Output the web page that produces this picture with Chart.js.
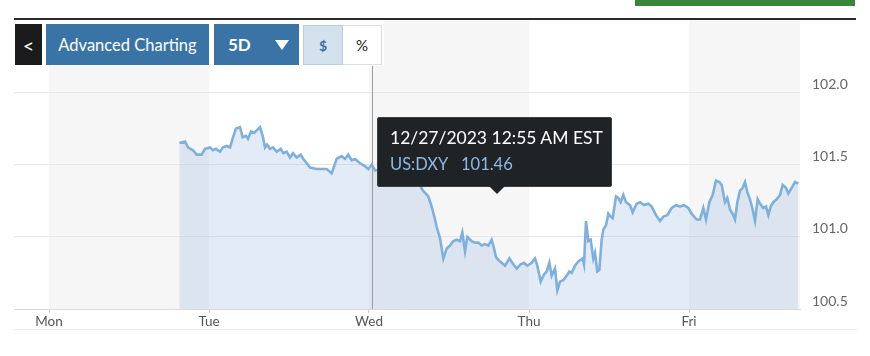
<!DOCTYPE html>
<html>
<head>
<meta charset="utf-8">
<script src="https://cdn.jsdelivr.net/npm/chart.js@4.4.1/dist/chart.umd.min.js"></script>
<style>
  html, body { margin: 0; padding: 0; background: #fff; }
  #wrap { position: relative; width: 870px; height: 356px; overflow: hidden; font-family: Lato, "Open Sans", sans-serif; }
  #c { position: absolute; left: 0; top: 0; }
  .abs { position: absolute; box-sizing: border-box; }
  .btn { display: flex; align-items: center; justify-content: center; }
</style>
</head>
<body>
<div id="wrap">
  <canvas id="c" width="870" height="356"></canvas>
  <div class="abs" style="left:635px;top:0;width:220px;height:6px;background:#37863a;"></div>
  <div class="abs" style="left:14px;top:18px;width:842px;height:2px;background:#2b2b2b;"></div>
  <div class="abs" style="left:14px;top:20px;width:370px;height:46px;background:#fff;"></div>
  <div class="abs btn" style="left:15px;top:24px;width:27px;height:41px;background:#1b1b1b;color:#fff;font-size:20px;">&lt;</div>
  <div class="abs btn" style="left:46px;top:24px;width:163px;height:41px;background:#3a74a6;color:#fff;font-size:16.5px;">Advanced Charting</div>
  <div class="abs btn" style="left:214px;top:24px;width:85px;height:41px;background:#3a74a6;color:#fff;font-size:17px;font-weight:bold;justify-content:flex-start;padding-left:14px;">5D<span style="display:inline-block;margin-left:24px;width:0;height:0;border-left:7px solid transparent;border-right:7px solid transparent;border-top:10px solid #fff;"></span></div>
  <div class="abs btn" style="left:303px;top:25px;width:40px;height:40px;background:#d4e2ee;border:1px solid #b9cde0;color:#3a74a6;font-size:14px;font-weight:bold;">$</div>
  <div class="abs btn" style="left:343px;top:25px;width:39px;height:40px;background:#fff;border:1px solid #dedede;border-left:none;color:#222;font-size:15px;">%</div>
  <div class="abs" style="left:14px;top:329px;width:843px;height:1px;background:#ececec;"></div>
  <div class="abs" style="left:377px;top:117px;width:235px;height:70px;background:#202326;border:1px solid #3c3f42;border-radius:2px;"></div>
  <div class="abs" style="left:489px;top:186px;width:0;height:0;border-left:8px solid transparent;border-right:8px solid transparent;border-top:8px solid #202326;"></div>
  <div class="abs" style="left:390px;top:127px;color:#fff;font-size:17.5px;white-space:nowrap;line-height:22px;">12/27/2023 12:55 AM EST</div>
  <div class="abs" style="left:390px;top:153px;color:#8db9e6;font-size:16.5px;white-space:nowrap;line-height:22px;">US:DXY</div>
  <div class="abs" style="left:461px;top:153px;color:#8db9e6;font-size:16.5px;white-space:nowrap;line-height:22px;">101.46</div>
</div>
<script>
// Hours since Monday 00:00 (EST)
const hours = [19.55,20.4,20.85,21.6,22.16,22.9,23.4,24.15,24.6,25.05,25.65,26.1,26.65,27.15,27.6,28.05,28.65,29.05,29.55,29.85,30.3,30.75,31.2,31.65,32.05,32.4,32.7,33.15,33.6,34.15,34.75,35.15,35.65,36.15,36.6,37.15,37.75,38.15,38.65,39.15,40.15,40.65,41.65,42.4,43.15,43.9,44.4,44.9,45.4,45.9,46.65,47.4,47.9,48.4,48.92,49.95,50.85,51.75,52.65,53.55,54.45,55.35,56.1,56.9,57.4,57.9,58.15,58.65,59.15,59.65,60.15,60.65,61.15,61.65,62.0,62.4,62.75,63.4,63.9,64.4,64.9,65.4,65.9,66.4,66.65,67.05,67.4,67.9,68.4,69.05,69.65,70.15,70.75,71.25,71.75,72.4,72.9,73.25,73.75,74.25,74.65,75.05,75.4,75.9,76.25,76.65,77.15,77.65,78.05,78.4,78.9,79.4,80.05,80.25,80.55,80.9,81.25,81.65,81.9,82.25,82.55,82.9,83.15,83.55,83.9,84.25,84.55,85.05,85.4,85.75,86.15,86.55,87.15,87.55,88.15,88.65,89.25,89.9,90.4,91.05,91.65,92.15,92.75,93.4,94.05,94.65,95.25,95.9,96.4,97.15,97.65,98.15,98.55,99.05,99.55,100.05,100.55,100.9,101.4,101.75,102.15,102.55,102.9,103.25,103.65,104.05,104.4,104.75,105.15,105.55,105.9,106.3,106.65,107.15,107.55,107.9,108.25,108.65,109.15,109.65,110.05,110.55,110.9,111.4,111.9,112.4];
const dxy = [101.65,101.66,101.62,101.60,101.57,101.57,101.61,101.62,101.60,101.61,101.59,101.62,101.63,101.62,101.69,101.75,101.76,101.69,101.70,101.68,101.73,101.72,101.74,101.76,101.70,101.62,101.64,101.61,101.62,101.59,101.61,101.58,101.59,101.55,101.58,101.55,101.57,101.54,101.51,101.48,101.47,101.47,101.47,101.44,101.54,101.56,101.54,101.57,101.53,101.54,101.51,101.49,101.47,101.50,101.46,101.47,101.45,101.47,101.44,101.46,101.43,101.38,101.32,101.28,101.21,101.12,101.07,100.99,100.85,100.92,100.94,100.97,100.98,100.97,101.03,100.90,101.00,100.97,100.96,100.96,100.94,100.95,100.94,100.98,100.94,100.86,100.84,100.82,100.80,100.85,100.81,100.78,100.81,100.82,100.80,100.82,100.85,100.80,100.69,100.74,100.76,100.82,100.73,100.78,100.63,100.69,100.70,100.73,100.76,100.75,100.80,100.83,100.85,100.81,101.11,100.97,100.98,100.85,100.89,100.76,100.77,100.98,101.05,101.08,101.16,101.14,101.13,101.28,101.27,101.24,101.29,101.24,101.22,101.17,101.23,101.24,101.22,101.23,101.21,101.15,101.11,101.14,101.15,101.20,101.22,101.21,101.22,101.20,101.16,101.12,101.12,101.20,101.12,101.24,101.29,101.39,101.38,101.36,101.24,101.27,101.19,101.16,101.12,101.24,101.32,101.34,101.38,101.31,101.26,101.19,101.11,101.26,101.23,101.20,101.21,101.15,101.21,101.24,101.26,101.29,101.36,101.34,101.30,101.34,101.38,101.37];
const dayLabels = ['Mon','Tue','Wed','Thu','Fri'];
const dayStarts = [0, 24, 48, 72, 96];
const yTicks = [100.5, 101.0, 101.5, 102.0];
const crosshairHour = 48.45;

const points = hours.map((h, i) => ({ x: h, y: dxy[i] }));

const bandsPlugin = {
  id: 'bands',
  beforeDraw(chart) {
    const { ctx, chartArea, scales } = chart;
    ctx.save();
    ctx.fillStyle = '#f6f6f6';
    for (let i = 0; i < dayStarts.length; i += 2) {
      const x0 = scales.x.getPixelForValue(dayStarts[i]);
      const x1 = Math.min(scales.x.getPixelForValue(dayStarts[i] + 24), chartArea.right);
      ctx.fillRect(x0, chartArea.top, x1 - x0, chartArea.bottom - chartArea.top);
    }
    ctx.restore();
  },
  afterDatasetsDraw(chart) {
    const { ctx, chartArea, scales } = chart;
    const x = Math.round(scales.x.getPixelForValue(crosshairHour)) + 0.5;
    ctx.save();
    ctx.strokeStyle = '#9c9c9c';
    ctx.lineWidth = 1;
    ctx.beginPath();
    ctx.moveTo(x, chartArea.top);
    ctx.lineTo(x, chartArea.bottom);
    ctx.stroke();
    ctx.restore();
  }
};

new Chart(document.getElementById('c'), {
  type: 'line',
  data: {
    datasets: [{
      data: points,
      borderColor: '#7eb0de',
      borderWidth: 2.6,
      backgroundColor: 'rgba(150,185,220,0.27)',
      fill: 'start',
      pointRadius: 0,
      tension: 0
    }]
  },
  options: {
    responsive: false,
    animation: false,
    events: [],
    layout: { padding: { left: 14, top: 20, right: 0, bottom: 0 } },
    plugins: { legend: { display: false }, tooltip: { enabled: false } },
    scales: {
      x: {
        type: 'linear',
        min: -5.25,
        max: 112.65,
        afterFit(s) { s.height = 47; },
        afterBuildTicks(s) { s.ticks = dayStarts.map(v => ({ value: v })); },
        border: { display: true, color: '#dadada' },
        grid: { drawOnChartArea: false, drawTicks: true, tickLength: 4, color: '#cfcfcf' },
        ticks: {
          padding: 1,
          color: '#555',
          font: { family: 'Lato', size: 13.5 },
          maxRotation: 0,
          callback(v) { const i = dayStarts.indexOf(v); return i >= 0 ? dayLabels[i] : ''; }
        }
      },
      y: {
        position: 'right',
        min: 100.5,
        max: 102.5,
        afterFit(s) { s.width = 70; },
        afterBuildTicks(s) { s.ticks = yTicks.map(v => ({ value: v })); },
        border: { display: false },
        grid: { drawTicks: false, color: '#e6e6e6' },
        ticks: {
          padding: 12,
          labelOffset: -8,
          color: '#666',
          font: { family: 'Lato', size: 14 },
          callback(v) { return Number(v).toFixed(1); }
        }
      }
    }
  },
  plugins: [bandsPlugin]
});
</script>
</body>
</html>
